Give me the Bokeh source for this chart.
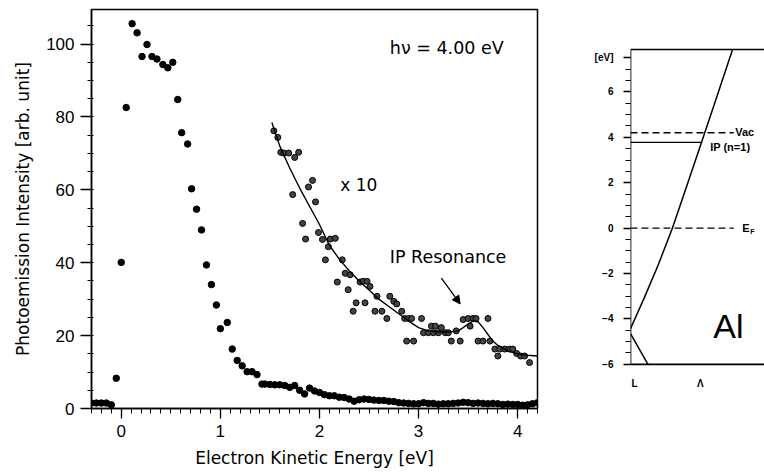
from bokeh.plotting import figure
from bokeh.layouts import row
from bokeh.models import Range1d, FixedTicker, Label, Arrow, NormalHead
from bokeh.embed import file_html
from bokeh.resources import INLINE

# ---------------- data: left panel (photoemission spectrum) ----------------
energy = [-0.30, -0.25, -0.20, -0.15, -0.10, -0.05, 0.00, 0.05, 0.11, 0.16,
          0.21, 0.26, 0.31, 0.36, 0.42, 0.47, 0.52, 0.57, 0.61, 0.67,
          0.71, 0.76, 0.81, 0.86, 0.91, 0.96, 1.00, 1.07, 1.12, 1.17,
          1.22, 1.27, 1.32, 1.37, 1.42, 1.45, 1.50, 1.55, 1.60, 1.65,
          1.70, 1.75, 1.80, 1.85, 1.90, 1.95, 2.00, 2.05, 2.10, 2.15,
          2.20, 2.25, 2.30, 2.35, 2.40, 2.45, 2.50, 2.55, 2.60, 2.65,
          2.70, 2.75, 2.80, 2.85, 2.90, 2.95, 3.00, 3.05, 3.10, 3.15,
          3.20, 3.25, 3.30, 3.35, 3.40, 3.45, 3.50, 3.55, 3.60, 3.65,
          3.70, 3.75, 3.80, 3.85, 3.90, 3.95, 4.00, 4.05, 4.10, 4.15, 4.20]
intensity = [1.5, 1.5, 1.5, 1.5, 1.0, 8.3, 40.1, 82.6, 105.6, 103.1,
             96.6, 99.9, 96.6, 95.9, 94.4, 93.5, 95.0, 84.8, 75.7, 72.6,
             60.3, 54.7, 49.0, 39.4, 34.0, 28.4, 21.9, 23.6, 16.3, 13.2,
             11.7, 10.1, 10.1, 9.3, 6.7, 6.7, 6.6, 6.5, 6.5, 6.3,
             5.8, 6.3, 5.0, 4.0, 5.6, 4.8, 4.4, 3.8, 3.5, 3.5,
             3.1, 3.0, 2.6, 2.0, 2.4, 2.6, 2.5, 2.3, 2.2, 2.2,
             2.0, 1.9, 1.6, 1.5, 1.4, 1.3, 1.3, 1.6, 1.4, 1.4,
             1.2, 1.3, 1.3, 1.4, 1.5, 1.7, 1.6, 1.4, 1.5, 1.4,
             1.3, 1.4, 1.3, 1.1, 1.2, 1.1, 1.1, 0.9, 1.0, 1.3, 1.6]

x10_energy = [1.54, 1.58, 1.61, 1.64, 1.69, 1.73, 1.75, 1.79, 1.83, 1.86,
              1.89, 1.93, 1.96, 1.99, 2.03, 2.06, 2.09, 2.11, 2.16, 2.18,
              2.23, 2.26, 2.29, 2.31, 2.34, 2.37, 2.41, 2.44, 2.46, 2.48,
              2.51, 2.56, 2.58, 2.63, 2.68, 2.71, 2.75, 2.78, 2.83, 2.86,
              2.88, 2.90, 2.93, 2.95, 3.03, 3.05, 3.10, 3.13, 3.15, 3.17,
              3.20, 3.23, 3.27, 3.30, 3.33, 3.38, 3.42, 3.45, 3.50, 3.52,
              3.55, 3.58, 3.60, 3.65, 3.70, 3.72, 3.77, 3.80, 3.82, 3.87,
              3.92, 3.95, 3.99, 4.03, 4.07, 4.12]
x10_intensity = [76.2, 74.4, 70.3, 70.1, 70.1, 58.7, 68.9, 70.3, 50.8, 46.5,
                 60.8, 62.6, 56.7, 48.3, 46.4, 40.8, 44.4, 46.5, 46.7, 34.7,
                 40.8, 37.1, 32.6, 36.7, 26.7, 29.0, 34.7, 34.9, 29.0, 34.9,
                 33.5, 26.7, 30.8, 26.7, 24.7, 30.8, 29.4, 28.7, 26.7, 24.7,
                 18.5, 24.7, 24.7, 18.5, 24.7, 20.8, 20.8, 22.6, 20.8, 22.6,
                 20.8, 22.2, 20.8, 20.8, 18.5, 21.3, 18.5, 24.4, 24.7, 22.6,
                 24.7, 24.7, 18.5, 18.5, 24.7, 18.5, 16.3, 14.4, 16.3, 16.3,
                 16.3, 16.3, 15.1, 14.4, 14.4, 12.6]

fit_energy = [1.52, 1.60, 1.70, 1.80, 1.90, 2.00, 2.10, 2.20, 2.30, 2.40,
              2.50, 2.60, 2.70, 2.80, 2.90, 3.00, 3.10, 3.20, 3.30, 3.40,
              3.45, 3.50, 3.55, 3.60, 3.65, 3.70, 3.75, 3.80, 3.90, 4.00,
              4.10, 4.20]
fit_intensity = [78.5, 72.0, 66.0, 60.5, 55.5, 50.5, 44.8, 41.0, 37.8, 35.0,
                 32.5, 30.0, 28.0, 26.0, 24.0, 22.2, 21.3, 21.0, 21.0, 21.3,
                 22.2, 23.2, 24.0, 23.8, 22.2, 20.3, 18.5, 17.3, 15.8, 15.0,
                 14.6, 14.4]

x_ticks = [0, 1, 2, 3, 4]
y_ticks = [0, 20, 40, 60, 80, 100]
resonance_arrow = dict(x_start=3.23, y_start=35.8, x_end=3.42, y_end=28.7)

# ---------------- data: right panel (Al band structure) ----------------
band_k = [0.0, 0.1, 0.2, 0.3, 0.4, 0.5, 0.6, 0.73]
band_E = [-4.43, -3.05, -1.6, 0.0, 1.8, 3.62, 5.45, 7.85]
lower_band_k = [0.0, 0.125]
lower_band_E = [-4.65, -6.0]
vac_level = 4.2
ip_level = 3.78
ef_level = 0.0
vac_k_end = 0.74
ip_k_end = 0.514
ef_k_end = 0.74
E_min, E_max = -6.0, 7.87          # energy window of the band panel
k_max = 0.96
band_y_ticks = [-6, -4, -2, 0, 2, 4, 6, 7.5]
band_y_labels = {7.5: "[eV]"}
k_points = [0.0, 0.5]
k_names = ["L", "Λ"]

TITLE_FONT = "DejaVu Sans"
TICK_FONT = "Liberation Sans"

H = 473
TOP, BOTTOM = 9, 65

# ---------------- left figure ----------------
p = figure(width=568, height=H, x_range=Range1d(-0.3, 4.2), y_range=Range1d(0, 109.5),
           output_backend="svg", toolbar_location=None,
           min_border_left=91, min_border_right=31, min_border_top=TOP, min_border_bottom=BOTTOM)
p.xgrid.visible = False
p.ygrid.visible = False
p.outline_line_color = "black"
p.outline_line_width = 1.5

p.scatter(energy, intensity, size=6.5, color="black")
p.scatter(x10_energy, x10_intensity, size=6, fill_color="#444444", line_color="black", line_width=1)
p.line(fit_energy, fit_intensity, line_color="black", line_width=1.4)

p.xaxis.ticker = FixedTicker(ticks=x_ticks, minor_ticks=[round(-0.3 + 0.1 * i, 2) for i in range(46)])
p.yaxis.ticker = FixedTicker(ticks=y_ticks, minor_ticks=[5 * i for i in range(22)])
p.xaxis.axis_label = "Electron Kinetic Energy [eV]"
p.yaxis.axis_label = "Photoemission Intensity [arb. unit]"
for ax in (p.xaxis[0], p.yaxis[0]):
    ax.axis_line_color = "black"
    ax.axis_line_width = 1.5
    ax.major_tick_line_color = "black"
    ax.minor_tick_line_color = "black"
    ax.major_tick_line_width = 1.3
    ax.minor_tick_line_width = 1.0
    ax.major_label_text_font = TICK_FONT
    ax.major_label_text_font_size = "17px"
    ax.major_label_text_color = "black"
    ax.axis_label_text_font = TITLE_FONT
    ax.axis_label_text_font_size = "17px"
    ax.axis_label_text_font_style = "normal"
    ax.axis_label_text_color = "black"
p.xaxis.major_tick_out = 10
p.xaxis.major_tick_in = 0
p.xaxis.minor_tick_out = 5
p.xaxis.minor_tick_in = 0
p.xaxis.major_label_standoff = 6
p.xaxis.axis_label_standoff = 8
p.yaxis.major_tick_out = 11
p.yaxis.major_tick_in = 0
p.yaxis.minor_tick_out = 4
p.yaxis.minor_tick_in = 2
p.yaxis.major_label_standoff = 6
p.yaxis.axis_label_standoff = 10

p.add_layout(Label(x=2.71, y=98.9, text="hν = 4.00 eV", text_font=TITLE_FONT,
                   text_font_size="17.5px", text_baseline="middle", text_color="black"))
p.add_layout(Label(x=2.21, y=61.3, text="x 10", text_font=TITLE_FONT,
                   text_font_size="17px", text_baseline="middle", text_color="black"))
p.add_layout(Label(x=2.71, y=41.7, text="IP Resonance", text_font=TITLE_FONT,
                   text_font_size="17.5px", text_baseline="middle", text_color="black"))
p.add_layout(Arrow(end=NormalHead(size=8, fill_color="black", line_color="black"),
                   line_color="black", line_width=1.3, **resonance_arrow))

# ---------------- right figure ----------------
# frame spans the same height as the left one; the band panel box is drawn inside it
px_per_eV = 22.7
frame_h = H - TOP - BOTTOM
E_top = E_max + (49 - TOP) / px_per_eV
E_bot = E_top - frame_h / px_per_eV
q = figure(width=196, height=H, x_range=Range1d(0, k_max), y_range=Range1d(E_bot, E_top),
           output_backend="svg", toolbar_location=None,
           min_border_left=62, min_border_right=0, min_border_top=TOP, min_border_bottom=BOTTOM)
q.xgrid.visible = False
q.ygrid.visible = False
q.outline_line_color = None
q.xaxis.visible = False

# panel box: left, top and bottom edges
q.segment(x0=[0, 0, 0], y0=[E_min, E_max, E_min], x1=[0, k_max, k_max], y1=[E_max, E_max, E_min],
          line_color="black", line_width=1.7)

q.line(band_k, band_E, line_color="black", line_width=1.5)
q.line(lower_band_k, lower_band_E, line_color="black", line_width=1.5)
q.segment(x0=[0.0], y0=[vac_level], x1=[vac_k_end], y1=[vac_level], line_color="black",
          line_width=1.4, line_dash="7 4")
q.segment(x0=[0.0], y0=[ip_level], x1=[ip_k_end], y1=[ip_level], line_color="black", line_width=1.4)
q.segment(x0=[0.0], y0=[ef_level], x1=[ef_k_end], y1=[ef_level], line_color="black",
          line_width=1.4, line_dash="7 4")

q.yaxis.ticker = FixedTicker(ticks=band_y_ticks,
                             minor_ticks=[-6 + 0.5 * i for i in range(28)])
q.yaxis.major_label_overrides = band_y_labels
ya = q.yaxis[0]
ya.axis_line_color = None
ya.major_tick_line_color = "black"
ya.minor_tick_line_color = "black"
ya.major_tick_line_width = 1.4
ya.minor_tick_line_width = 1.2
ya.major_label_text_font = TICK_FONT
ya.major_label_text_font_size = "10px"
ya.major_label_text_font_style = "bold"
ya.major_label_text_color = "black"
ya.major_tick_out = 7
ya.major_tick_in = 0
ya.minor_tick_out = 5
ya.minor_tick_in = 0
ya.major_label_standoff = 10

small = dict(text_font=TICK_FONT, text_font_size="10px", text_font_style="bold",
             text_baseline="middle", text_color="black")
for k, name in zip(k_points, k_names):
    q.add_layout(Label(x=k, y=E_min, y_offset=-19, x_offset=4 if k == 0 else 0, text=name,
                       text_align="center", **small))
q.add_layout(Label(x=0.75, y=4.25, text="Vac", text_font=TICK_FONT, text_font_size="11px",
                   text_font_style="bold", text_baseline="middle", text_color="black"))
q.add_layout(Label(x=0.571, y=3.57, text="IP (n=1)", text_font=TICK_FONT, text_font_size="11px",
                   text_font_style="bold", text_baseline="middle", text_color="black"))
q.add_layout(Label(x=0.80, y=0.0, text="E", text_font=TICK_FONT, text_font_size="11px",
                   text_font_style="bold", text_baseline="middle", text_color="black"))
q.add_layout(Label(x=0.80, y=0.0, x_offset=8, y_offset=-3, text="F", text_font=TICK_FONT,
                   text_font_size="7px", text_font_style="bold", text_baseline="middle",
                   text_color="black"))
q.add_layout(Label(x=0.593, y=-4.3, text="Al", text_font=TICK_FONT, text_font_size="34px",
                   text_baseline="middle", text_color="black"))

layout = row(p, q)
open("out.html", "w").write(file_html(layout, INLINE))
